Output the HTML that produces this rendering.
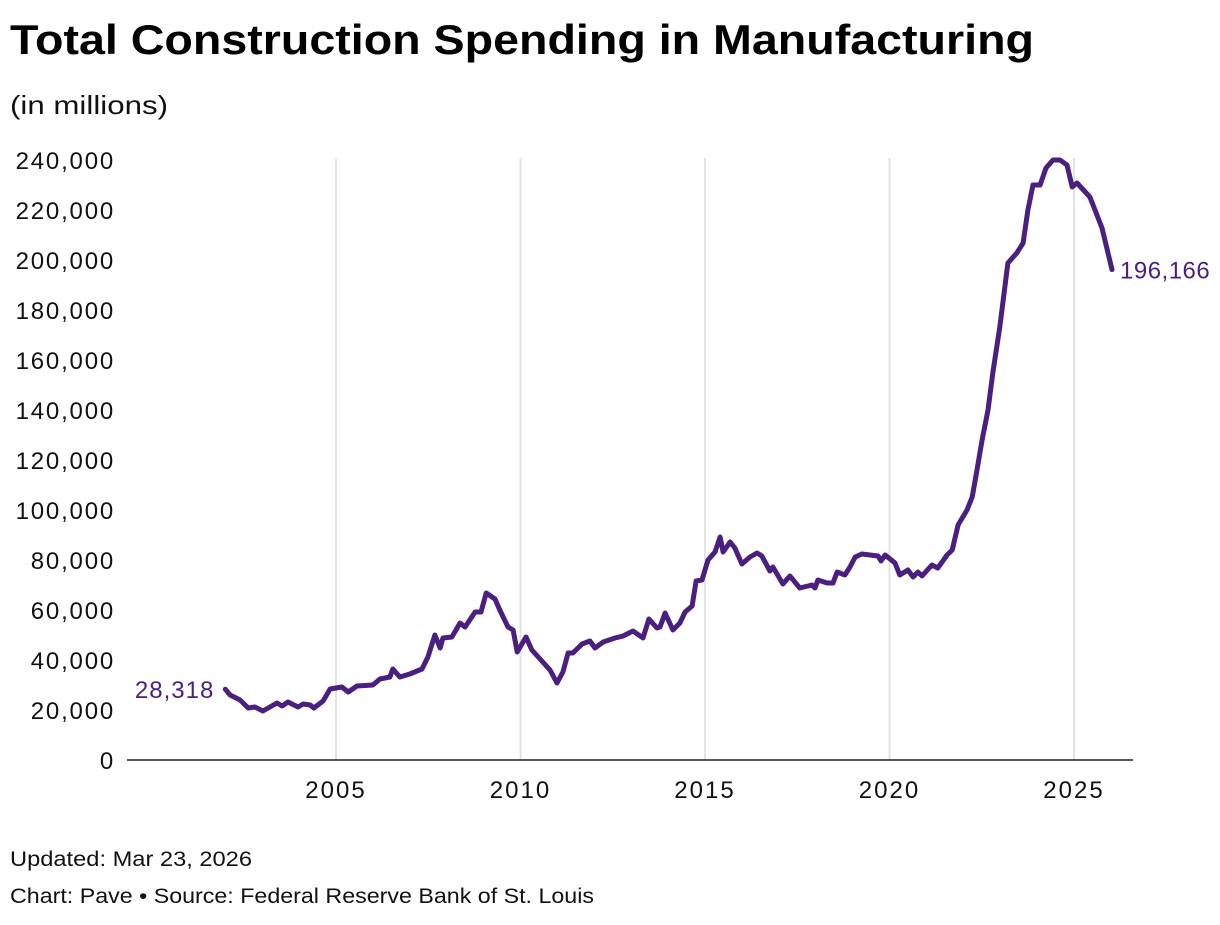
<!DOCTYPE html>
<html><head><meta charset="utf-8"><style>
body{margin:0;background:#fff;width:1220px;height:920px;overflow:hidden;font-family:"Liberation Sans",sans-serif;}
svg text{font-family:"Liberation Sans",sans-serif;}
</style></head><body>
<svg id="chart" width="1220" height="920">
<text x="10" y="54" font-size="42" font-weight="bold" fill="#000" textLength="1024" lengthAdjust="spacingAndGlyphs">Total Construction Spending in Manufacturing</text>
<text x="10" y="114" font-size="26" fill="#111" textLength="158" lengthAdjust="spacingAndGlyphs">(in millions)</text>
<g id="grid"></g><g id="yaxis"></g><g id="xaxis"></g><g id="series"></g>
<text x="10" y="866" font-size="21" fill="#111" textLength="242" lengthAdjust="spacingAndGlyphs">Updated: Mar 23, 2026</text>
<text x="10" y="903" font-size="21" fill="#111" textLength="584" lengthAdjust="spacingAndGlyphs">Chart: Pave • Source: Federal Reserve Bank of St. Louis</text>
</svg>
<script>
const dates=[2002.0,2002.13,2002.4,2002.62,2002.8,2003.02,2003.21,2003.4,2003.54,2003.7,2003.97,2004.11,2004.3,2004.4,2004.65,2004.84,2005.16,2005.33,2005.57,2006.0,2006.19,2006.46,2006.54,2006.73,2007.0,2007.33,2007.49,2007.68,2007.82,2007.9,2008.14,2008.36,2008.5,2008.77,2008.93,2009.07,2009.31,2009.44,2009.66,2009.8,2009.91,2010.15,2010.31,2010.8,2010.99,2011.15,2011.29,2011.42,2011.67,2011.88,2012.02,2012.24,2012.56,2012.78,2013.05,2013.32,2013.48,2013.7,2013.78,2013.92,2014.13,2014.32,2014.46,2014.65,2014.76,2014.92,2015.08,2015.27,2015.41,2015.49,2015.68,2015.81,2016.0,2016.22,2016.41,2016.54,2016.76,2016.84,2017.11,2017.3,2017.57,2017.9,2017.98,2018.06,2018.31,2018.47,2018.58,2018.79,2018.93,2019.07,2019.25,2019.47,2019.69,2019.77,2019.88,2020.15,2020.28,2020.5,2020.64,2020.77,2020.88,2021.15,2021.31,2021.56,2021.7,2021.86,2022.1,2022.24,2022.37,2022.51,2022.67,2022.8,2022.99,2023.21,2023.45,2023.62,2023.75,2023.89,2024.08,2024.24,2024.43,2024.62,2024.81,2024.95,2025.08,2025.43,2025.57,2025.76,2026.03];
const values=[28318,26000,24000,20800,21200,19600,21200,22800,21600,23200,21200,22400,22000,20800,23600,28400,29200,27200,29600,30000,32400,33200,36400,33200,34400,36400,41200,50000,44800,48800,49200,54800,53200,59200,59200,66800,64400,60000,53200,52000,43200,49200,44000,36000,30800,35200,42800,42800,46400,47600,44800,47200,48800,49600,51600,48800,56400,52800,53200,58800,52000,54800,59200,61600,71600,72000,80000,83200,89200,83200,87200,84800,78400,81200,82800,81600,75600,77200,70400,73600,68800,70000,68800,72000,70800,70800,75200,74000,77200,81200,82400,82000,81600,79600,82000,78800,74000,76000,73200,75200,73600,78000,76800,82000,84000,94000,100000,105200,116000,128000,140000,154800,173200,198800,202800,206800,220000,230000,230000,236800,240000,240000,238000,229200,230800,225200,220000,212800,196166];
const yTicks=[0,20000,40000,60000,80000,100000,120000,140000,160000,180000,200000,220000,240000];
const xTicks=[2005,2010,2015,2020,2025];
const NS="http://www.w3.org/2000/svg";
const X=t=>336+(t-2005)*36.9;
const Y=v=>760-v*0.0025;
const fmt=v=>v.toLocaleString("en-US");
function mk(tag,attrs,parent,txt){const e=document.createElementNS(NS,tag);for(const k in attrs)e.setAttribute(k,attrs[k]);if(txt!==undefined)e.textContent=txt;parent.appendChild(e);return e;}
const grid=document.getElementById("grid"),ya=document.getElementById("yaxis"),xa=document.getElementById("xaxis"),ser=document.getElementById("series");
xTicks.forEach(t=>{
 const g=mk("line",{x1:X(t),x2:X(t),y1:158,y2:760,stroke:"#e3e3e3","stroke-width":2},grid);
 
 
 const l=mk("text",{x:X(t),y:798,"font-size":24,"letter-spacing":2,"text-anchor":"middle",fill:"#111"},xa,String(t));
 
 
});
yTicks.forEach(v=>{
 const l=mk("text",{x:115,y:Y(v)+9,"font-size":24,"letter-spacing":1.8,"text-anchor":"end",fill:"#111"},ya,fmt(v));
 
 
});
const ax=mk("line",{x1:127,x2:1133,y1:760,y2:760,stroke:"#222","stroke-width":1.5},xa);


const d=dates.map((t,i)=>(i?"L":"M")+X(t).toFixed(1)+","+Y(values[i]).toFixed(1)).join("");
const p=mk("path",{d:d,fill:"none",stroke:"#4a1f80","stroke-width":5,"stroke-linejoin":"round","stroke-linecap":"round"},ser);


const n=values.length-1;
const s=mk("text",{x:X(dates[0])-11,y:Y(values[0])+9,"font-size":24,"letter-spacing":1,"text-anchor":"end",fill:"#4a1f80"},ser,fmt(values[0]));


const e=mk("text",{x:X(dates[n])+8,y:Y(values[n])+9,"font-size":24,"letter-spacing":0.5,fill:"#4a1f80"},ser,fmt(values[n]));


</script>
</body></html>
